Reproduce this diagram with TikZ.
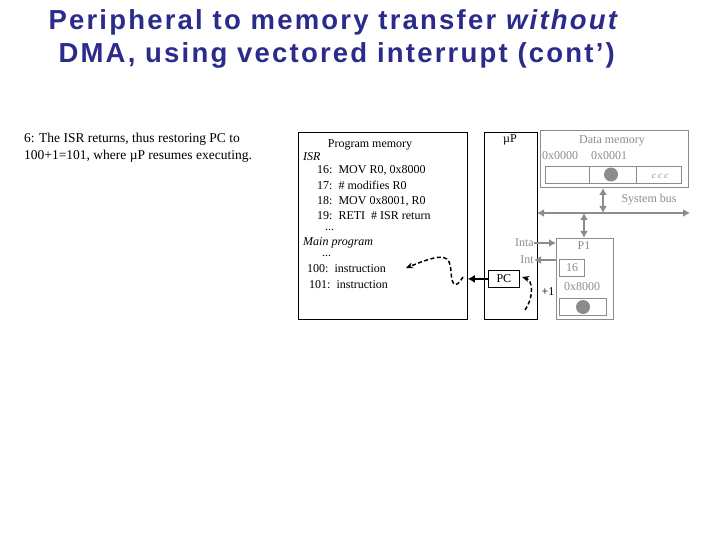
\documentclass[tikz,border=0pt]{standalone}
\usepackage{fontspec}
\setmainfont{Liberation Serif}
\newfontfamily\titlefont[LetterSpace=8]{Liberation Sans}
\usetikzlibrary{arrows.meta}
\definecolor{ttl}{HTML}{2B2B8C}
\definecolor{gr}{gray}{0.55}
\begin{document}
\begin{tikzpicture}[x=1pt,y=-1pt,
  txt/.style={font=\fontsize{12}{14}\selectfont,inner sep=0pt},
  gtxt/.style={txt,text=gr},
  blk/.style={draw,line width=0.8pt},
  gbox/.style={draw=gr,line width=1pt},
  gbus/.style={draw=gr,line width=2.5pt,{Latex[length=7pt,width=8pt]}-{Latex[length=7pt,width=8pt]}},
  garr/.style={draw=gr,line width=2.5pt,-{Latex[length=7pt,width=8pt]}},
  dsh/.style={line width=1.5pt,dash pattern=on 4pt off 2.5pt,-{Stealth[length=7pt,width=6pt]}}]
\useasboundingbox (0,0) rectangle (720,540);
\node[text=ttl,font=\titlefont\bfseries\fontsize{27.5}{33}\selectfont,anchor=west] (t1) at (45,22)
 {Peripheral to memory transfer \textit{without}};
\node[text=ttl,font=\titlefont\bfseries\fontsize{27.5}{33}\selectfont,anchor=west] (t2) at (55,55)
 {DMA, using vectored interrupt (cont’)};
\node[txt,align=left,anchor=north west,font=\fontsize{13.5}{17}\selectfont] (desc) at (24,133) {6: The ISR returns, thus restoring PC to\\100+1=101, where µP resumes executing.};
% program memory
\node[blk,minimum width=169,minimum height=187,anchor=north west] (pm) at (298,132) {};
\node[txt] (pmt) at (370,145) {Program memory};
\node[txt,anchor=west] (isr) at (303,157) {\itshape ISR};
\node[txt,anchor=west] (l16) at (317,170) {16:\ \ MOV R0, 0x8000};
\node[txt,anchor=west] (l17) at (317,185) {17:\ \ \# modifies R0};
\node[txt,anchor=west] (l18) at (317,201) {18:\ \ MOV 0x8001, R0};
\node[txt,anchor=west] (l19) at (317,216) {19:\ \ RETI \ \# ISR return};
\node[txt,anchor=west] (d1) at (325,230) {...};
\node[txt,anchor=west] (mp) at (303,243) {\itshape Main program};
\node[txt,anchor=west] (d2) at (322,256) {...};
\node[txt,anchor=west] (l100) at (307,269) {100:\ \ instruction};
\node[txt,anchor=west] (l101) at (309,285) {101:\ \ instruction};
% uP
\node[blk,minimum width=53,minimum height=187,anchor=north west] (up) at (484,132) {};
\node[txt] (upt) at (510,140) {µP};
\node[blk,minimum width=31,minimum height=17,anchor=north west,font=\fontsize{12}{14}\selectfont,inner sep=0pt] (pc) at (488,270) {PC};
\node[gtxt,anchor=east] (inta) at (534,243) {Inta};
\node[gtxt,anchor=east] (int) at (534,260) {Int};
\node[txt] (p1t) at (548,292) {+1};
% data memory
\node[gbox,minimum width=148,minimum height=57,anchor=north west] (dm) at (540,130) {};
\node[gtxt] (dmt) at (612,141) {Data memory};
\node[gtxt] (a0) at (560,156) {0x0000};
\node[gtxt] (a1) at (609,156) {0x0001};
\node[gbox,minimum width=136,minimum height=17,anchor=north west] (cells) at (545,166) {};
\coordinate (c1t) at (589,166); \coordinate (c1b) at (589,183);
\coordinate (c2t) at (636,166); \coordinate (c2b) at (636,183);
\draw[gr,line width=1pt] (c1t) -- (c1b) (c2t) -- (c2b);
\fill[gr] (611,174.5) circle (7);
\node[gtxt,font=\itshape\fontsize{9}{10}\selectfont] (ccc) at (660,176) {c c c};
\node[gtxt] (sb) at (649,200) {System bus};
% bus
\coordinate (busl) at (537,213); \coordinate (busr) at (690,213);
\draw[gbus] (busl) -- (busr);
\coordinate (dmbus) at (603,213);
\draw[gbus] (dmbus) -- (dm.south -| dmbus);
% P1
\node[gbox,minimum width=57,minimum height=81,anchor=north west] (p1) at (556,238) {};
\coordinate (p1bus) at (584,213);
\draw[gbus] (p1bus) -- (p1.north -| p1bus);
\node[gtxt] (p1n) at (584,246) {P1};
\node[gbox,minimum width=25,minimum height=17,anchor=north west,inner sep=0pt,text=gr,font=\fontsize{12}{14}\selectfont] (v16) at (559,259) {16};
\node[gtxt] (v8) at (582,287) {0x8000};
\node[gbox,minimum width=47,minimum height=17,anchor=north west] (p1c) at (559,298) {};
\fill[gr] (p1c.center) circle (7);
\draw[garr] (inta.east) -- (p1.west |- inta.east);
\draw[garr] (p1.west |- int.east) -- (int.east);
% PC arrows
\draw[line width=2.5pt,-{Latex[length=7pt,width=8pt]}] (pc.west) -- (pm.east |- pc.west);
\draw[dsh] (463,277) .. controls (455,290) and (452,285) .. (451,272) .. controls (450,255) and (445,252) .. (406,268);
\draw[dsh] (525,310) .. controls (535,295) and (532,280) .. (522,277);
\end{tikzpicture}
\end{document}
